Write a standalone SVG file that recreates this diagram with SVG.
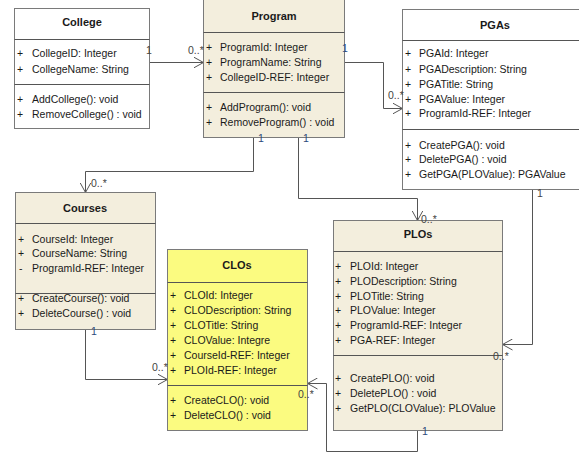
<svg xmlns="http://www.w3.org/2000/svg" width="579" height="454" viewBox="0 0 579 454">
<defs>
<marker id="open" markerWidth="11" markerHeight="12" refX="10" refY="6" orient="auto" markerUnits="userSpaceOnUse">
<path d="M0,0.5 L10,6 L0,11.5" fill="none" stroke="#555" stroke-width="1"/>
</marker>
<style>
.box{fill:#f3eedd;stroke:#7a7a7a;stroke-width:1}
.white{fill:#ffffff}
.yellow{fill:#fbfb80}
.div{stroke:#555;stroke-width:1}
.t{font-family:"Liberation Sans",Arial,sans-serif;font-size:10.5px;fill:#1a1a1a}
.h{font-family:"Liberation Sans",Arial,sans-serif;font-size:11px;font-weight:bold;fill:#1a1a1a;text-anchor:middle}
.m{font-family:"Liberation Sans",Arial,sans-serif;font-size:10.5px;fill:#444}
.one{fill:#2c4a7a}
.c{fill:none;stroke:#555;stroke-width:1;marker-end:url(#open)}
</style>
</defs>
<rect width="579" height="454" fill="#ffffff"/>

<g id="connectors">
<polyline class="c" points="149.5,62.5 203.5,62.5"/>
<polyline class="c" points="344.5,62.5 383.5,62.5 383.5,108.5 402.5,108.5"/>
<polyline class="c" points="253.5,137.5 253.5,171.5 85.5,171.5 85.5,192.5"/>
<polyline class="c" points="298.5,137.5 298.5,198.5 417.5,198.5 417.5,220.5"/>
<polyline class="c" points="532.5,189.5 532.5,344.5 502.5,344.5"/>
<polyline class="c" points="85.5,329.5 85.5,379.5 167.5,379.5"/>
<polyline class="c" points="417.5,430.5 417.5,451.5 326.5,451.5 326.5,383.5 307.5,383.5"/>
</g>

<g id="College">
<rect class="box white" x="14.5" y="8.5" width="135" height="120"/>
<line class="div" x1="14.5" y1="39.5" x2="149.5" y2="39.5"/>
<line class="div" x1="14.5" y1="84.5" x2="149.5" y2="84.5"/>
<text class="h" x="82" y="26">College</text>
<text class="t" x="17" y="57">+</text><text class="t" x="32" y="57">CollegeID: Integer</text>
<text class="t" x="17" y="73">+</text><text class="t" x="32" y="73">CollegeName: String</text>
<text class="t" x="17" y="103">+</text><text class="t" x="32" y="103">AddCollege(): void</text>
<text class="t" x="17" y="118">+</text><text class="t" x="32" y="118">RemoveCollege() : void</text>
</g>

<g id="Program">
<rect class="box" x="203.5" y="-1.5" width="141" height="139"/>
<line class="div" x1="203.5" y1="32.5" x2="344.5" y2="32.5"/>
<line class="div" x1="203.5" y1="92.5" x2="344.5" y2="92.5"/>
<text class="h" x="274" y="20">Program</text>
<text class="t" x="206" y="51">+</text><text class="t" x="220" y="51">ProgramId: Integer</text>
<text class="t" x="206" y="66">+</text><text class="t" x="220" y="66">ProgramName: String</text>
<text class="t" x="206" y="81">+</text><text class="t" x="220" y="81">CollegeID-REF: Integer</text>
<text class="t" x="206" y="111">+</text><text class="t" x="220" y="111">AddProgram(): void</text>
<text class="t" x="206" y="126">+</text><text class="t" x="220" y="126">RemoveProgram() : void</text>
</g>

<g id="PGAs">
<rect class="box white" x="402.5" y="9.5" width="186" height="180"/>
<line class="div" x1="402.5" y1="40.5" x2="588.5" y2="40.5"/>
<line class="div" x1="402.5" y1="129.5" x2="588.5" y2="129.5"/>
<text class="h" x="495" y="29">PGAs</text>
<text class="t" x="405" y="57">+</text><text class="t" x="419" y="57">PGAId: Integer</text>
<text class="t" x="405" y="73">+</text><text class="t" x="419" y="73">PGADescription: String</text>
<text class="t" x="405" y="88">+</text><text class="t" x="419" y="88">PGATitle: String</text>
<text class="t" x="405" y="103">+</text><text class="t" x="419" y="103">PGAValue: Integer</text>
<text class="t" x="405" y="117">+</text><text class="t" x="419" y="117">ProgramId-REF: Integer</text>
<text class="t" x="405" y="149">+</text><text class="t" x="419" y="149">CreatePGA(): void</text>
<text class="t" x="405" y="163">+</text><text class="t" x="419" y="163">DeletePGA() : void</text>
<text class="t" x="405" y="178">+</text><text class="t" x="419" y="178">GetPGA(PLOValue): PGAValue</text>
</g>

<g id="Courses">
<rect class="box" x="15.5" y="192.5" width="140" height="137"/>
<line class="div" x1="15.5" y1="223.5" x2="155.5" y2="223.5"/>
<line class="div" x1="15.5" y1="293.5" x2="155.5" y2="293.5"/>
<text class="h" x="85" y="212">Courses</text>
<text class="t" x="18" y="243">+</text><text class="t" x="32" y="243">CourseId: Integer</text>
<text class="t" x="18" y="257">+</text><text class="t" x="32" y="257">CourseName: String</text>
<text class="t" x="19" y="272">-</text><text class="t" x="32" y="272">ProgramId-REF: Integer</text>
<text class="t" x="18" y="302">+</text><text class="t" x="32" y="302">CreateCourse(): void</text>
<text class="t" x="18" y="317">+</text><text class="t" x="32" y="317">DeleteCourse() : void</text>
</g>

<g id="CLOs">
<rect class="box yellow" x="167.5" y="249.5" width="140" height="181"/>
<line class="div" x1="167.5" y1="282.5" x2="307.5" y2="282.5"/>
<line class="div" x1="167.5" y1="385.5" x2="307.5" y2="385.5"/>
<text class="h" x="237" y="269">CLOs</text>
<text class="t" x="170" y="299">+</text><text class="t" x="184" y="299">CLOId: Integer</text>
<text class="t" x="170" y="314">+</text><text class="t" x="184" y="314">CLODescription: String</text>
<text class="t" x="170" y="329">+</text><text class="t" x="184" y="329">CLOTitle: String</text>
<text class="t" x="170" y="344">+</text><text class="t" x="184" y="344">CLOValue: Integre</text>
<text class="t" x="170" y="359">+</text><text class="t" x="184" y="359">CourseId-REF: Integer</text>
<text class="t" x="170" y="374">+</text><text class="t" x="184" y="374">PLOId-REF: Integer</text>
<text class="t" x="170" y="404">+</text><text class="t" x="184" y="404">CreateCLO(): void</text>
<text class="t" x="170" y="419">+</text><text class="t" x="184" y="419">DeleteCLO() : void</text>
</g>

<g id="PLOs">
<rect class="box" x="333.5" y="220.5" width="169" height="210"/>
<line class="div" x1="333.5" y1="251.5" x2="502.5" y2="251.5"/>
<line class="div" x1="333.5" y1="355.5" x2="502.5" y2="355.5"/>
<text class="h" x="418" y="238">PLOs</text>
<text class="t" x="335" y="270">+</text><text class="t" x="350" y="270">PLOId: Integer</text>
<text class="t" x="335" y="285">+</text><text class="t" x="350" y="285">PLODescription: String</text>
<text class="t" x="335" y="300">+</text><text class="t" x="350" y="300">PLOTitle: String</text>
<text class="t" x="335" y="314">+</text><text class="t" x="350" y="314">PLOValue: Integer</text>
<text class="t" x="335" y="329">+</text><text class="t" x="350" y="329">ProgramId-REF: Integer</text>
<text class="t" x="335" y="344">+</text><text class="t" x="350" y="344">PGA-REF: Integer</text>
<text class="t" x="335" y="382">+</text><text class="t" x="350" y="382">CreatePLO(): void</text>
<text class="t" x="335" y="397">+</text><text class="t" x="350" y="397">DeletePLO() : void</text>
<text class="t" x="335" y="412">+</text><text class="t" x="350" y="412">GetPLO(CLOValue): PLOValue</text>
</g>

<g id="labels">
<text class="m" x="146" y="54">1</text>
<text class="m" x="188" y="54">0..*</text>
<text class="m one" x="342" y="52">1</text>
<text class="m" x="388" y="99">0..*</text>
<text class="m one" x="258" y="142">1</text>
<text class="m" x="91" y="187">0..*</text>
<text class="m one" x="303" y="142">1</text>
<text class="m" x="421" y="223">0..*</text>
<text class="m" x="537" y="197">1</text>
<text class="m" x="493" y="360">0..*</text>
<text class="m one" x="91" y="335">1</text>
<text class="m" x="152" y="371">0..*</text>
<text class="m" x="298" y="398">0..*</text>
<text class="m one" x="422" y="435">1</text>
</g>
</svg>
